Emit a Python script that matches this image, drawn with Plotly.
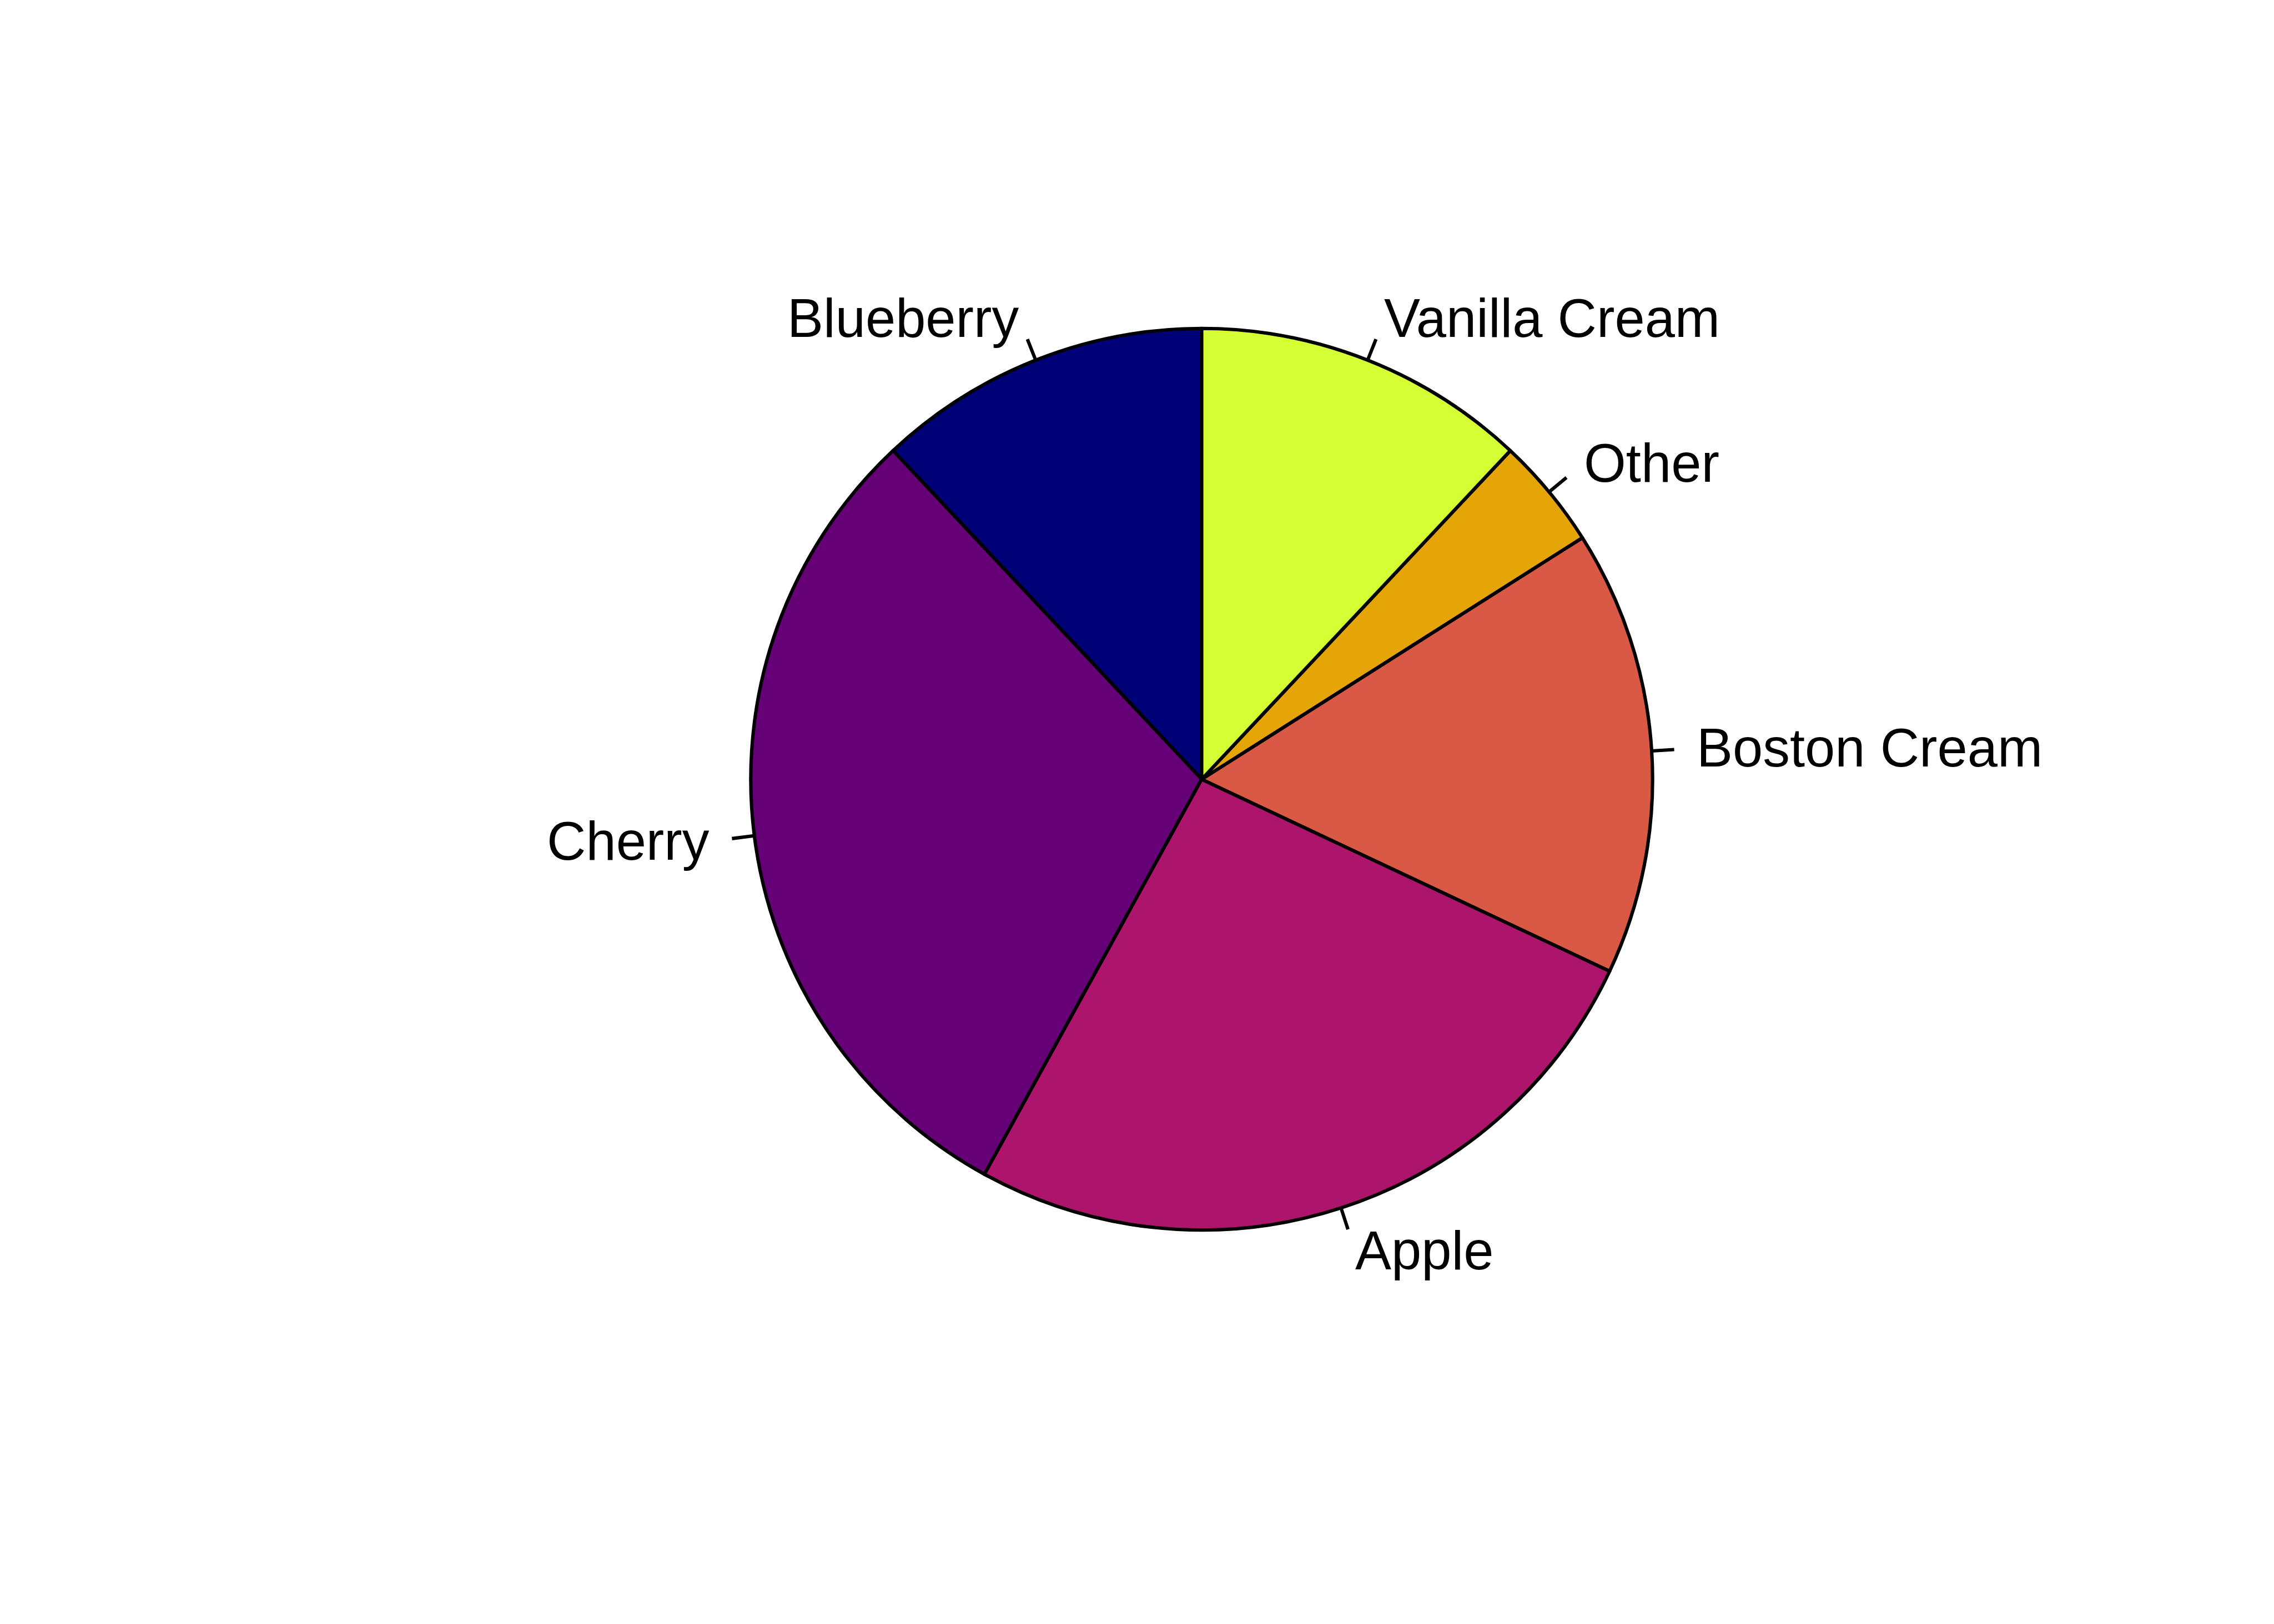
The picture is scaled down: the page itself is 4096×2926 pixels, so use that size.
import math
import plotly.graph_objects as go

# ---- data ----
labels = ["Blueberry", "Cherry", "Apple", "Boston Cream", "Other", "Vanilla Cream"]
values = [12, 30, 26, 16, 4, 12]
colors = ["#000077", "#660077", "#AD146B", "#D95945", "#E6A507", "#D4FF33"]

# ---- layout constants (pixels) ----
W, H = 4096, 2926
S = 0.975
CX, CY, R = 2220 * S, 1440 * S, 833 * S   # centre / radius, measured from top-left
LW = 6.25 * S
FONT = dict(family="Liberation Sans, Arial, sans-serif", size=100 * S, color="black")

total = sum(values)
# plotly's counterclockwise pies put the first slice's far edge at `rotation`;
# shift so the first slice starts at 12 o'clock and runs counterclockwise (as in R)
rot = -360.0 * values[0] / total

fig = go.Figure(go.Pie(
    labels=labels,
    values=values,
    sort=False,
    direction="counterclockwise",
    rotation=rot,
    textinfo="none",
    hoverinfo="label+value",
    showlegend=False,
    marker=dict(colors=colors, line=dict(color="black", width=LW)),
    domain=dict(x=[(CX - R) / W, (CX + R) / W],
                y=[1 - (CY + R) / H, 1 - (CY - R) / H]),
))

shapes, annotations = [], []
cum = 0.0
for lab, v in zip(labels, values):
    mid = (cum + v / 2) / total
    cum += v
    theta = math.pi / 2 + 2 * math.pi * mid
    c, s = math.cos(theta), math.sin(theta)

    def pt(k):
        return (CX + k * R * c) / W, 1 - (CY - k * R * s) / H

    x0, y0 = pt(1.0)
    x1, y1 = pt(1.05)
    xt, yt = pt(1.1)
    shapes.append(dict(type="line", xref="paper", yref="paper",
                       x0=x0, y0=y0, x1=x1, y1=y1,
                       line=dict(color="black", width=LW)))
    annotations.append(dict(x=xt, y=yt, xref="paper", yref="paper", text=lab,
                            showarrow=False, xanchor="right" if c < 0 else "left",
                            yanchor="middle", font=FONT, borderpad=0, borderwidth=0))

fig.update_layout(
    width=W, height=H,
    margin=dict(l=0, r=0, t=0, b=0, pad=0),
    paper_bgcolor="white", plot_bgcolor="white",
    shapes=shapes, annotations=annotations,
)

fig.write_html("out.html")
